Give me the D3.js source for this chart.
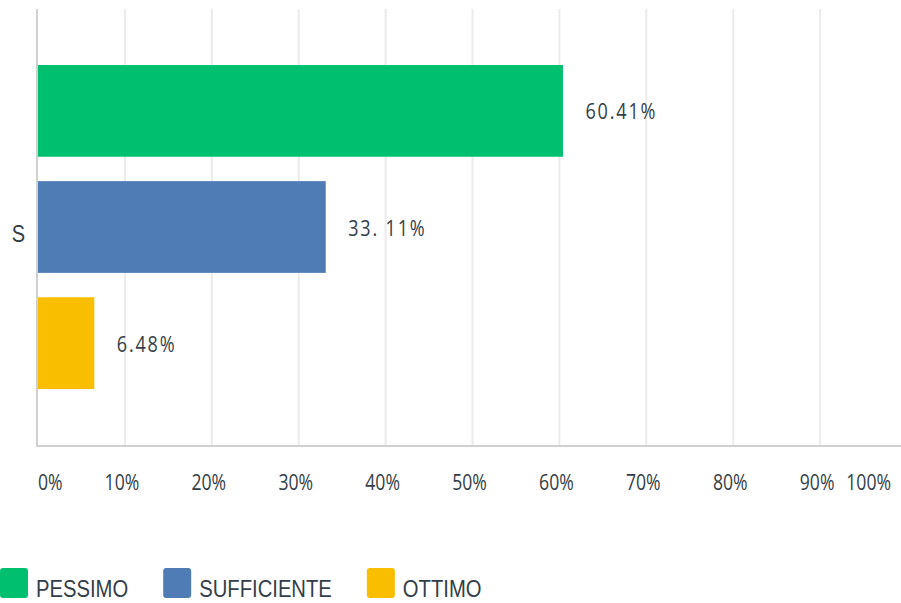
<!DOCTYPE html>
<html><head><meta charset="utf-8">
<script src="https://cdn.jsdelivr.net/npm/d3@7"></script>
<style>body{margin:0;background:#fff}svg{display:block}</style>
</head><body><svg id="c" width="901" height="603"></svg>
<script>
const categories = ["S"];
const seriesNames = ["PESSIMO", "SUFFICIENTE", "OTTIMO"];
const seriesValues = [60.41, 33.11, 6.48];
const valueLabels = ["60.41%", "33. 11%", "6.48%"];
const seriesColors = ["#00bf6f", "#507cb6", "#f9be00"];
const tickValues = [0,10,20,30,40,50,60,70,80,90,100];
const tickLabels = ["0%","10%","20%","30%","40%","50%","60%","70%","80%","90%","100%"];

const svg = d3.select("#c");
const plotLeft = 38, plotTop = 9, plotBottom = 446;
const x = d3.scaleLinear().domain([0,100]).range([plotLeft, plotLeft + 869]);
const y = d3.scaleBand().domain(categories).range([plotTop, plotBottom]);
const ys = d3.scaleBand().domain(seriesNames).range([y("S") + 56, y("S") + y.bandwidth() - 57]).paddingInner(0.21);
const txt = "#333e48";
const numFont = "'Open Sans','DejaVu Sans',sans-serif";
const sansFont = "'Liberation Sans',Arial,sans-serif";

function addText(parent, tx, ty, str, opts) {
  const g = parent.append("g").attr("transform", `translate(${tx},${ty}) scale(${opts.sx},1)`);
  const t = g.append("text").attr("x", 0).attr("y", 0)
    .attr("text-anchor", opts.anchor || "start")
    .attr("fill", txt).attr("font-family", opts.font).attr("font-size", opts.size)
    .text(str);
  if (opts.ls) t.attr("letter-spacing", opts.ls);
  return t;
}

// gridlines
svg.append("g").selectAll("line").data(tickValues.slice(1)).join("line")
  .attr("x1", d => x(d)).attr("x2", d => x(d)).attr("y1", plotTop).attr("y2", plotBottom)
  .attr("stroke", "#ebebeb").attr("stroke-width", 2);

// bars
svg.append("g").selectAll("rect").data(seriesNames).join("rect")
  .attr("x", x(0)).attr("y", d => ys(d))
  .attr("width", (d,i) => x(seriesValues[i]) - x(0)).attr("height", ys.bandwidth())
  .attr("fill", (d,i) => seriesColors[i]);

// axes lines
svg.append("line").attr("x1", plotLeft-1).attr("x2", plotLeft-1).attr("y1", plotTop).attr("y2", plotBottom+1)
  .attr("stroke", "#d0d0d0").attr("stroke-width", 2);
svg.append("line").attr("x1", plotLeft-2).attr("x2", 901).attr("y1", plotBottom).attr("y2", plotBottom)
  .attr("stroke", "#d0d0d0").attr("stroke-width", 2);

// value labels
const vg = svg.append("g");
seriesNames.forEach((n, i) => {
  addText(vg, x(seriesValues[i]) + 22.5, ys(n) + ys.bandwidth()/2 + 8.5, valueLabels[i],
    {sx: 0.8, font: numFont, size: 22.5, ls: 2.3});
});

// x tick labels
const tg = svg.append("g");
tickValues.forEach((d, i) => {
  const last = i === tickValues.length - 1;
  const tx = i === 0 ? plotLeft : (last ? 891 : x(d) - 3);
  addText(tg, tx, 490, tickLabels[i],
    {sx: 0.8, font: numFont, size: 22, anchor: i === 0 ? "start" : (last ? "end" : "middle")});
});

// category label
addText(svg, 18.5, y("S") + y.bandwidth()/2 + 14, categories[0],
  {sx: 0.87, font: sansFont, size: 23, anchor: "middle"});

// legend
const lg = svg.append("g");
let lx = 0;
seriesNames.forEach((n, i) => {
  lg.append("rect").attr("x", lx).attr("y", 568).attr("width", 28).attr("height", 30).attr("rx", 3)
    .attr("fill", seriesColors[i]);
  const t = addText(lg, lx + 36, 597, n, {sx: 0.88, font: sansFont, size: 23});
  lx += 36 + t.node().getComputedTextLength() * 0.88 + 35;
});
</script></body></html>
